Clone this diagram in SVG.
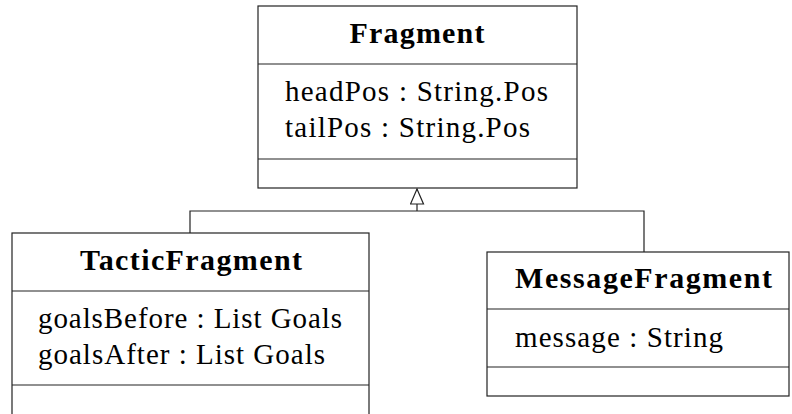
<svg xmlns="http://www.w3.org/2000/svg" width="792" height="414" viewBox="0 0 792 414">
<style>
.box{fill:#fff;stroke:#222;stroke-width:1.2}
.div{stroke:#222;stroke-width:1.2}
.title{font-family:"Liberation Serif","DejaVu Serif",serif;font-weight:bold;font-size:30px;fill:#000}
.attr{font-family:"Liberation Serif","DejaVu Serif",serif;font-size:29px;fill:#000}
.conn{fill:none;stroke:#222;stroke-width:1.2}
</style>
<defs>
<marker id="gen" viewBox="0 0 17 15" refX="16" refY="7.5" markerWidth="17" markerHeight="15" markerUnits="userSpaceOnUse" orient="auto">
<path d="M16,7.5 L1,1 L1,14 Z" fill="#fff" stroke="#222" stroke-width="1.2"/>
</marker>
</defs>
<g id="connectors">
<path class="conn" d="M190,233 V211 H644 V252"/>
<path class="conn" d="M417,211 V189" marker-end="url(#gen)"/>
</g>
<g id="Fragment">
<rect class="box" x="258" y="6" width="319" height="182"/>
<line class="div" x1="258" y1="64" x2="577" y2="64"/>
<line class="div" x1="258" y1="159" x2="577" y2="159"/>
<text class="title" x="417" y="43" text-anchor="middle" textLength="135">Fragment</text>
<text class="attr" x="285" y="101" textLength="263">headPos : String.Pos</text>
<text class="attr" x="285" y="137" textLength="245">tailPos : String.Pos</text>
</g>
<g id="TacticFragment">
<rect class="box" x="12" y="233" width="357" height="200"/>
<line class="div" x1="12" y1="291" x2="369" y2="291"/>
<line class="div" x1="12" y1="385" x2="369" y2="385"/>
<text class="title" x="191" y="270" text-anchor="middle" textLength="222">TacticFragment</text>
<text class="attr" x="38" y="328" textLength="304">goalsBefore : List Goals</text>
<text class="attr" x="38" y="364" textLength="287">goalsAfter : List Goals</text>
</g>
<g id="MessageFragment">
<rect class="box" x="487" y="252" width="302" height="144"/>
<line class="div" x1="487" y1="309" x2="789" y2="309"/>
<line class="div" x1="487" y1="367" x2="789" y2="367"/>
<text class="title" x="643.5" y="288" text-anchor="middle" textLength="257">MessageFragment</text>
<text class="attr" x="515" y="347" textLength="208">message : String</text>
</g>
</svg>
